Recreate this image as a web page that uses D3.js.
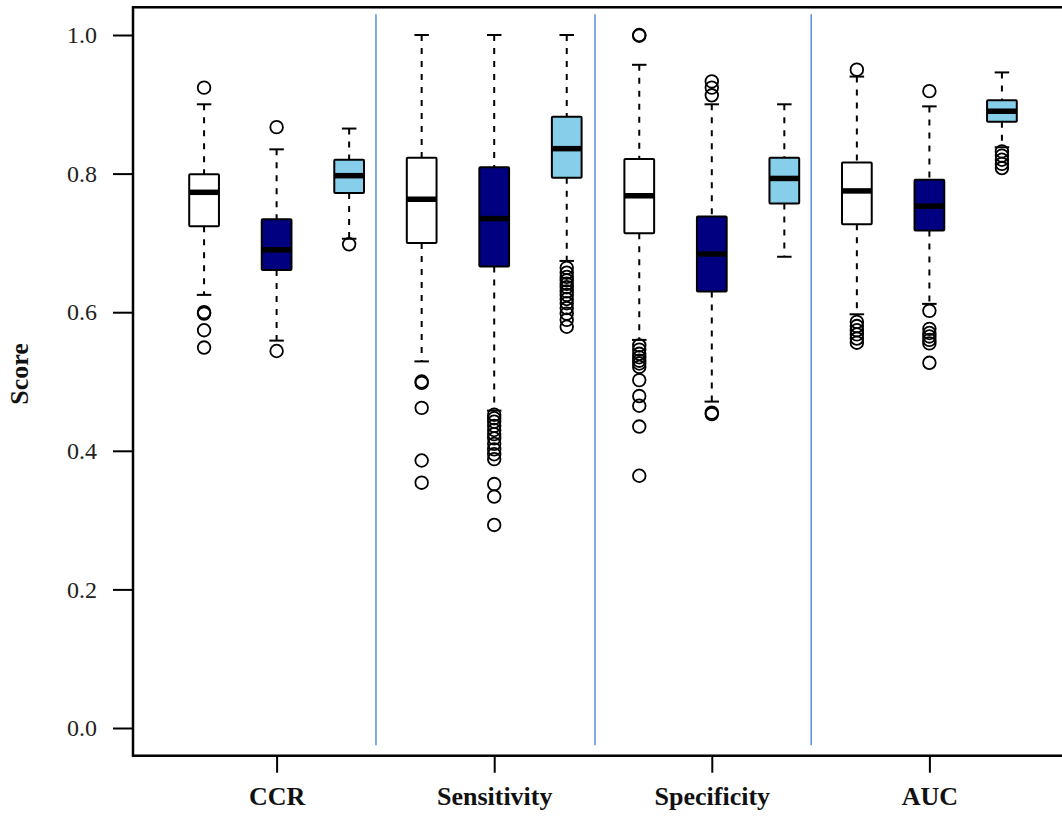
<!DOCTYPE html>
<html lang="en">
<head>
  <meta charset="UTF-8" />
  <title>Score boxplots</title>
  <style>
    body { margin: 0; background: #fff; }
    svg { display: block; font-family: "Liberation Serif", "DejaVu Serif", serif; }
    .ytick text { font-family: "Liberation Serif", serif; font-size: 24px; fill: #222; }
    .xtick text { font-family: "Liberation Serif", serif; font-size: 26px; font-weight: bold; fill: #111; }
    .ylab { font-family: "Liberation Serif", serif; font-size: 26px; font-weight: bold; fill: #111; }
  </style>
</head>
<body>
  <div id="chart"></div>
  <script src="https://d3js.org/d3.v7.min.js"></script>
  <script>
    // metrics on the x axis, three models per metric
    const metrics = ['CCR', 'Sensitivity', 'Specificity', 'AUC'];
    const fills = ['#ffffff', '#000080', '#87ceeb'];

    // box stats, 12 boxes in plotting order
    const whiskerLo = [0.625, 0.559, 0.706, 0.529, 0.458, 0.674, 0.560, 0.471, 0.680, 0.597, 0.612, 0.838];
    const q1        = [0.724, 0.661, 0.772, 0.700, 0.666, 0.794, 0.714, 0.630, 0.757, 0.727, 0.718, 0.875];
    const medians   = [0.773, 0.690, 0.797, 0.763, 0.735, 0.836, 0.768, 0.684, 0.793, 0.775, 0.753, 0.890];
    const q3        = [0.799, 0.734, 0.820, 0.823, 0.809, 0.882, 0.821, 0.738, 0.823, 0.816, 0.791, 0.906];
    const whiskerHi = [0.900, 0.835, 0.865, 1.000, 1.000, 1.000, 0.957, 0.900, 0.900, 0.940, 0.897, 0.946];
    const outliers = [
      [0.924, 0.600, 0.598, 0.574, 0.549],
      [0.867, 0.544],
      [0.698],
      [0.500, 0.498, 0.462, 0.386, 0.354],
      [0.452, 0.447, 0.442, 0.436, 0.430, 0.424, 0.418, 0.410, 0.402, 0.395, 0.388, 0.352, 0.334, 0.293],
      [0.664, 0.657, 0.651, 0.646, 0.641, 0.636, 0.630, 0.625, 0.619, 0.613, 0.606, 0.598, 0.589, 0.579],
      [1.000, 0.999, 0.552, 0.546, 0.540, 0.535, 0.530, 0.526, 0.521, 0.502, 0.479, 0.465, 0.435, 0.364],
      [0.933, 0.924, 0.913, 0.455, 0.453],
      [],
      [0.950, 0.586, 0.580, 0.574, 0.568, 0.562, 0.556],
      [0.919, 0.602, 0.576, 0.570, 0.565, 0.560, 0.555, 0.527],
      [0.832, 0.826, 0.820, 0.814, 0.808]
    ];
    const yTicks = [0, 0.2, 0.4, 0.6, 0.8, 1.0];
    const separators = [3.37, 6.39, 9.37];

    const width = 1062;
    const height = 819;

    const x = d3.scaleLinear().domain([0.02, 12.98]).range([133, 1073]);
    const y = d3.scaleLinear().domain([0, 1]).range([728, 35]);

    const boxes = medians.map((m, i) => ({
      pos: i + 1,
      fill: fills[i % 3],
      lo: whiskerLo[i], q1: q1[i], med: m, q3: q3[i], hi: whiskerHi[i],
      out: outliers[i]
    }));

    const svg = d3.select('#chart')
      .append('svg')
      .attr('width', width)
      .attr('height', height);

    // separators between metric groups
    svg.selectAll('line.sep')
      .data(separators)
      .enter()
      .append('line')
      .attr('class', 'sep')
      .attr('x1', d => x(d)).attr('x2', d => x(d))
      .attr('y1', y(1.03)).attr('y2', y(-0.025))
      .attr('stroke', '#4f86cf')
      .attr('stroke-width', 1.4);

    const bw = x(1.41) - x(1);   // box width
    const cw = x(1.2) - x(1);    // staple width

    const g = svg.selectAll('g.box')
      .data(boxes)
      .enter()
      .append('g')
      .attr('class', 'box')
      .attr('transform', d => `translate(${x(d.pos)},0)`);

    // whiskers (dashed)
    g.append('line')
      .attr('y1', d => y(d.hi)).attr('y2', d => y(d.q3))
      .attr('stroke', '#000').attr('stroke-width', 2).attr('stroke-dasharray', '6,7');
    g.append('line')
      .attr('y1', d => y(d.q1)).attr('y2', d => y(d.lo))
      .attr('stroke', '#000').attr('stroke-width', 2).attr('stroke-dasharray', '6,7');

    // staples
    g.append('line')
      .attr('x1', -cw / 2).attr('x2', cw / 2)
      .attr('y1', d => y(d.hi)).attr('y2', d => y(d.hi))
      .attr('stroke', '#000').attr('stroke-width', 2);
    g.append('line')
      .attr('x1', -cw / 2).attr('x2', cw / 2)
      .attr('y1', d => y(d.lo)).attr('y2', d => y(d.lo))
      .attr('stroke', '#000').attr('stroke-width', 2);

    // boxes
    g.append('rect')
      .attr('x', -bw / 2)
      .attr('width', bw)
      .attr('y', d => y(d.q3))
      .attr('height', d => y(d.q1) - y(d.q3))
      .attr('fill', d => d.fill)
      .attr('stroke', '#000')
      .attr('stroke-width', 2)
      .attr('rx', 1);

    // medians
    g.append('line')
      .attr('x1', -bw / 2).attr('x2', bw / 2)
      .attr('y1', d => y(d.med)).attr('y2', d => y(d.med))
      .attr('stroke', '#000').attr('stroke-width', 5.5);

    // outliers
    g.selectAll('circle')
      .data(d => d.out)
      .enter()
      .append('circle')
      .attr('cx', 0)
      .attr('cy', v => y(v))
      .attr('r', 6.3)
      .attr('fill', 'none')
      .attr('stroke', '#000')
      .attr('stroke-width', 1.8);

    // y axis
    const yAxis = svg.append('g')
      .attr('transform', `translate(${x(0.02)},0)`)
      .call(d3.axisLeft(y).tickValues(yTicks).tickSize(20).tickPadding(16).tickFormat(d3.format('.1f')))
      .attr('class', 'ytick')
      .attr('font-family', null)
      .attr('font-size', null);
    yAxis.select('.domain').remove();
    yAxis.selectAll('.tick line').attr('stroke', '#000').attr('stroke-width', 2);

    // x axis: one tick per metric, centred on the middle box
    const xAxis = svg.append('g')
      .attr('transform', `translate(0,${y(-0.04)})`)
      .call(d3.axisBottom(x)
        .tickValues(metrics.map((m, i) => i * 3 + 2))
        .tickFormat((d, i) => metrics[i])
        .tickSize(17).tickPadding(14))
      .attr('class', 'xtick')
      .attr('font-family', null)
      .attr('font-size', null);
    xAxis.select('.domain').remove();
    xAxis.selectAll('.tick line').attr('stroke', '#000').attr('stroke-width', 2);

    // plot frame
    svg.append('rect')
      .attr('x', x(0.02))
      .attr('y', y(1.04))
      .attr('width', x(12.98) - x(0.02))
      .attr('height', y(-0.04) - y(1.04))
      .attr('fill', 'none')
      .attr('stroke', '#000')
      .attr('stroke-width', 2.5);

    // y label
    svg.append('text')
      .attr('class', 'ylab')
      .attr('transform', 'translate(28,374) rotate(-90)')
      .attr('text-anchor', 'middle')
      .text('Score');
  </script>
</body>
</html>
